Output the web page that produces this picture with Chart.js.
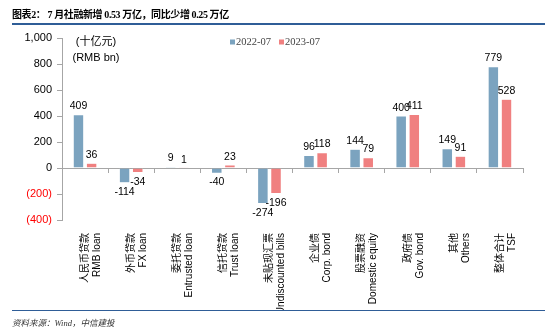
<!DOCTYPE html>
<html>
<head>
<meta charset="utf-8">
<script src="https://cdn.jsdelivr.net/npm/chart.js@4/dist/chart.umd.min.js"></script>
<style>
  html, body { margin: 0; padding: 0; background: #fff; }
  #wrap { position: relative; width: 550px; height: 336px; overflow: hidden; }
  #c { position: absolute; left: 0; top: 0; }
  #title { position: absolute; left: 12px; top: 6px; font: bold 10px "Liberation Serif", "Noto Sans CJK SC", serif; letter-spacing: -0.4px; color: #000; white-space: nowrap; }
  #topline { position: absolute; left: 12px; top: 23px; width: 533px; height: 2px; background: #2f5d97; }
  #botline { position: absolute; left: 12px; top: 310px; width: 533px; height: 1px; background: #2f5d97; }
  #foot { position: absolute; left: 12px; top: 316px; font: italic 8.5px "Liberation Serif", "Noto Sans CJK SC", serif; color: #333; white-space: nowrap; }
</style>
</head>
<body>
<div id="wrap">
  <canvas id="c" width="550" height="336"></canvas>
  <div id="title">图表2： 7 月社融新增 0.53 万亿，同比少增 0.25 万亿</div>
  <div id="topline"></div>
  <div id="botline"></div>
  <div id="foot">资料来源：Wind，中信建投</div>
</div>
<script>
const categoriesCN = ['人民币贷款', '外币贷款', '委托贷款', '信托贷款', '未贴现汇票', '企业债', '股票融资', '政府债', '其他', '整体合计'];
const categoriesEN = ['RMB loan', 'FX loan', 'Entrusted loan', 'Trust loan', 'Undiscounted bills', 'Corp. bond', 'Domestic equity', 'Gov. bond', 'Others', 'TSF'];
const series2022 = [409, -114, 9, -40, -274, 96, 144, 400, 149, 779];
const series2023 = [36, -34, 1, 23, -196, 118, 79, 411, 91, 528];
const seriesNames = ['2022-07', '2023-07'];
const yTicks = [-400, -200, 0, 200, 400, 600, 800, 1000];
const unitLabels = ['(十亿元)', '(RMB bn)'];

const labels = categoriesCN.map((c, i) => [c, categoriesEN[i]]);
const FONT = '"Liberation Sans", "Noto Sans CJK SC", sans-serif';

const valueLabels = {
  id: 'valueLabels',
  afterDatasetsDraw(chart) {
    const ctx = chart.ctx;
    ctx.save();
    ctx.font = '10.5px ' + FONT;
    ctx.fillStyle = '#000';
    ctx.textAlign = 'center';
    chart.data.datasets.forEach((ds, di) => {
      const meta = chart.getDatasetMeta(di);
      meta.data.forEach((bar, i) => {
        const v = ds.data[i];
        if (v >= 0) {
          ctx.textBaseline = 'bottom';
          ctx.fillText(String(v), bar.x, bar.y - 3);
        } else {
          ctx.textBaseline = 'top';
          ctx.fillText(String(v), bar.x, bar.y + 4);
        }
      });
    });
    ctx.restore();
  }
};

const unitsAndLegend = {
  id: 'unitsAndLegend',
  afterDraw(chart) {
    const ctx = chart.ctx;
    const a = chart.chartArea;
    ctx.save();
    ctx.font = '11px ' + FONT;
    ctx.fillStyle = '#000';
    ctx.textAlign = 'center';
    ctx.textBaseline = 'middle';
    ctx.fillText(unitLabels[0], a.left + 34, a.top + 4);
    ctx.fillText(unitLabels[1], a.left + 34, a.top + 20);
    // legend
    ctx.font = '10.5px "Liberation Serif", serif';
    ctx.textAlign = 'left';
    let x = a.left + 168;
    const y = a.top + 4;
    chart.data.datasets.forEach((ds) => {
      ctx.fillStyle = ds.backgroundColor;
      ctx.fillRect(x, y - 2.5, 5, 5);
      ctx.fillStyle = '#444';
      ctx.fillText(ds.label, x + 6, y + 0.5);
      x += 49;
    });
    ctx.restore();
  }
};

new Chart(document.getElementById('c'), {
  type: 'bar',
  data: {
    labels: labels,
    datasets: [
      { label: seriesNames[0], data: series2022, backgroundColor: '#7ba3bf', borderColor: '#ffffff', borderWidth: 0.5, categoryPercentage: 0.57, barPercentage: 0.8 },
      { label: seriesNames[1], data: series2023, backgroundColor: '#f08080', borderColor: '#ffffff', borderWidth: 0.5, categoryPercentage: 0.57, barPercentage: 0.8 }
    ]
  },
  options: {
    responsive: false,
    devicePixelRatio: 1,
    animation: false,
    layout: { padding: { top: 38, left: 0, right: 27, bottom: 26 } },
    plugins: {
      legend: { display: false },
      tooltip: { enabled: false }
    },
    scales: {
      x: {
        type: 'category',
        position: 'bottom',
        grid: { display: false },
        border: { display: false },
        ticks: { minRotation: 90, maxRotation: 90, autoSkip: false, font: { size: 10, family: FONT }, color: '#000', padding: 5 },
        afterFit(scale) { scale.height = 90; }
      },
      x2: {
        type: 'category',
        labels: labels,
        position: { y: 0 },
        grid: { display: true, offset: true, drawOnChartArea: false, drawTicks: true, tickLength: 4, color: '#a6a6a6' },
        border: { display: true, color: '#a6a6a6', width: 1 },
        ticks: { display: false }
      },
      y: {
        min: -400,
        max: 1000,
        afterBuildTicks(scale) { scale.ticks = yTicks.map(v => ({ value: v })); },
        grid: { display: true, drawOnChartArea: false, drawTicks: true, tickLength: 5, color: '#a6a6a6' },
        border: { display: true, color: '#a6a6a6' },
        ticks: {
          padding: 5,
          font: { size: 11, family: FONT },
          color: (c) => (c.tick && c.tick.value < 0 ? '#ff0000' : '#000'),
          callback: (v) => v < 0 ? '(' + Math.abs(v).toLocaleString('en-US') + ')' : v.toLocaleString('en-US')
        },
        afterFit(scale) { scale.width = 62; }
      }
    }
  },
  plugins: [valueLabels, unitsAndLegend]
});
</script>
</body>
</html>
